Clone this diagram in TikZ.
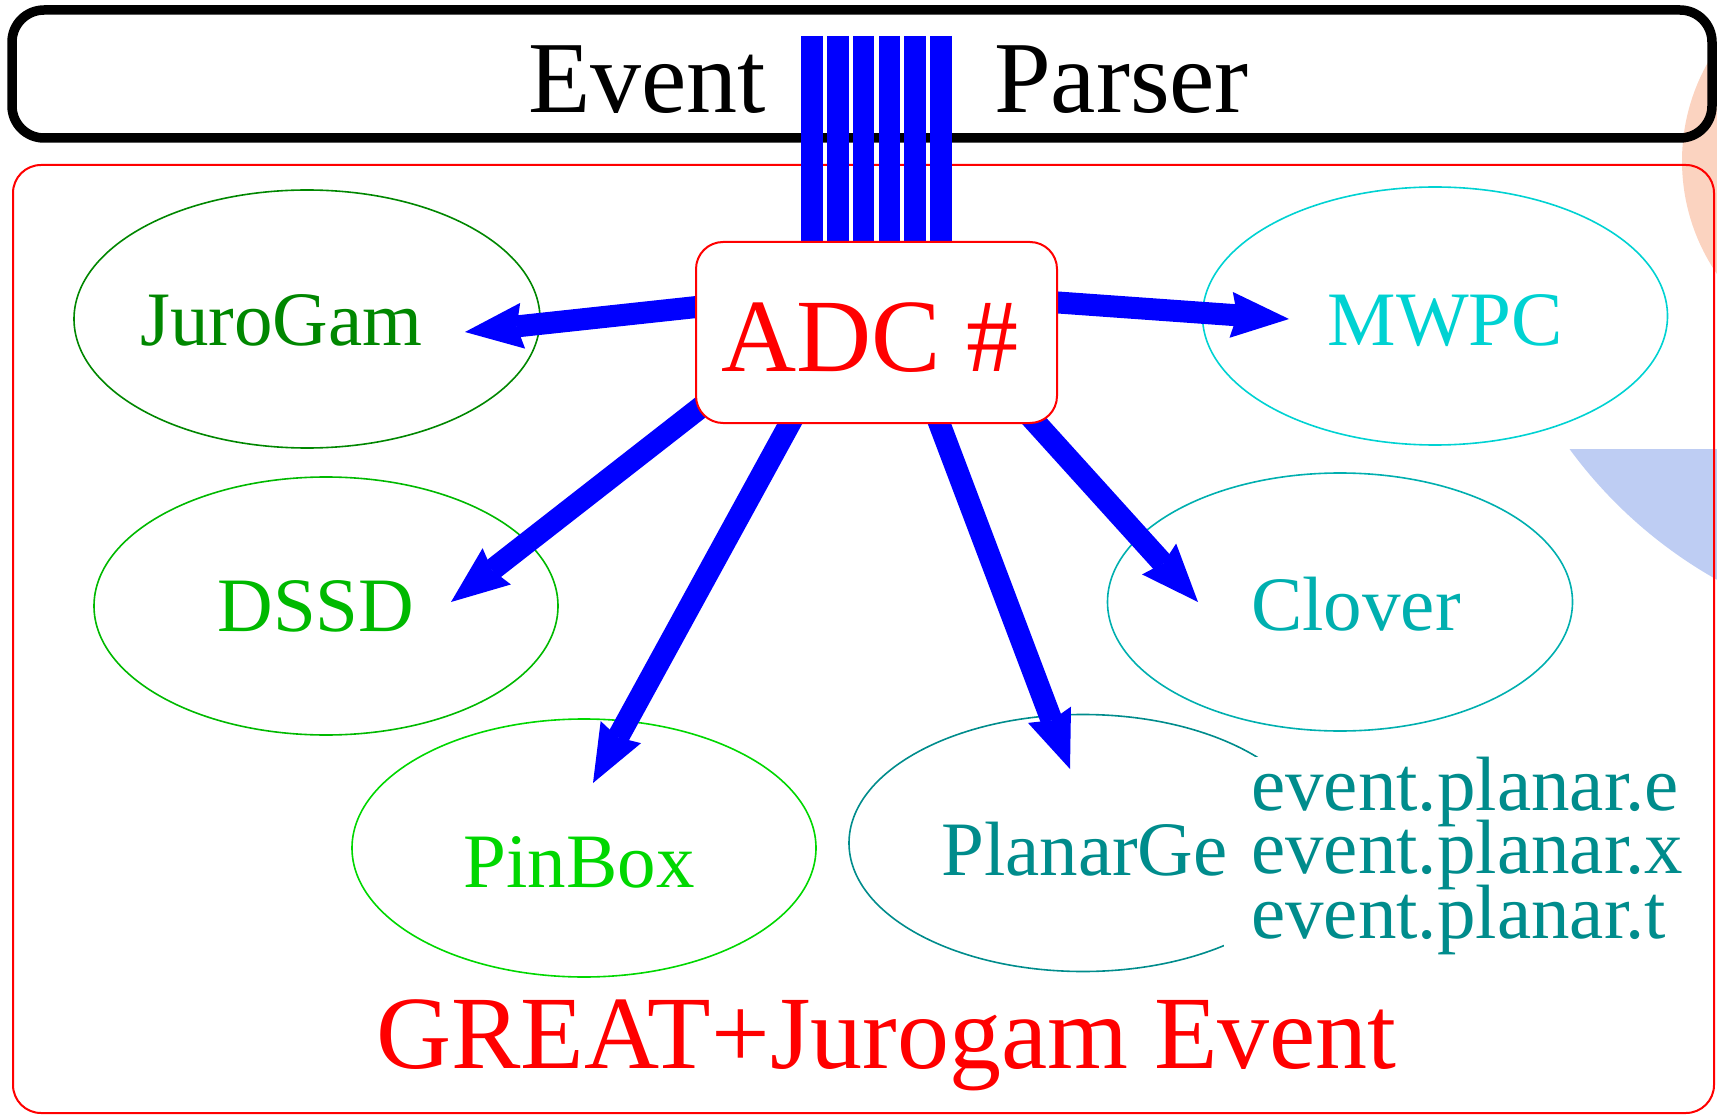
\documentclass[tikz,border=0pt]{standalone}
\usepackage{fontspec}
\setmainfont{Liberation Serif}
\usetikzlibrary{shapes.geometric,arrows.meta,calc}
\definecolor{cjuro}{RGB}{0,135,0}
\definecolor{cdssd}{RGB}{0,185,0}
\definecolor{cpin}{RGB}{0,215,0}
\definecolor{cplanar}{RGB}{0,140,140}
\definecolor{cclover}{RGB}{0,175,175}
\definecolor{cmwpc}{RGB}{0,210,210}
\definecolor{cpeach}{RGB}{251,211,192}
\definecolor{clav}{RGB}{190,205,243}
\pgfdeclarelayer{front}
\pgfsetlayers{main,front}
\begin{document}
\begin{tikzpicture}[x=1pt,y=-1pt,
  ell/.style={ellipse, draw, line width=1.6pt, inner sep=0pt, minimum width=465pt, minimum height=258pt},
  lab/.style={anchor=base, font=\fontsize{77}{77}\selectfont, inner sep=0pt},
  var/.style={anchor=base west, font=\fontsize{77}{77}\selectfont, inner sep=0pt, text=cplanar, text height=46pt, text depth=14pt},
  big/.style={anchor=base, font=\fontsize{103}{103}\selectfont, inner sep=0pt},
  flow/.style={blue, line width=22pt, -{Stealth[length=58pt,width=46pt,inset=6pt,line width=0pt]}},
  bar/.style={blue, line width=21.5pt}
]
\useasboundingbox (0,0) rectangle (1717,1115);
% background decorations
\begin{scope}
  \clip (0,0) rectangle (1717,1115);
  \fill[cpeach] (1882,161) circle (200);
  \clip (1500,449) rectangle (1717,1115);
  \fill[clav] (1944,175) circle (464);
\end{scope}
% frames
\node[draw, line width=9.5pt, rounded corners=32pt, minimum width=1700pt, minimum height=128pt, inner sep=0pt] (parser) at (862,74) {};
\node[draw=red, line width=2pt, rounded corners=28pt, minimum width=1701pt, minimum height=948pt, inner sep=0pt] (event) at (863.5,639) {};
\node[big, font=\fontsize{102}{102}\selectfont] (evt) at (647,113) {Event};
\node[big, font=\fontsize{102}{102}\selectfont] (prs) at (1121.5,113) {Parser};
% ADC box (front layer)
\begin{pgfonlayer}{front}
  \node[draw=red, fill=white, line width=2pt, rounded corners=27pt, minimum width=361pt, minimum height=181pt, inner sep=0pt] (adc) at (876.5,332.5) {};
  \node[big, text=red, font=\fontsize{104}{104}\selectfont] (adct) at (870,371) {ADC \#};
\end{pgfonlayer}
% bars from the parser to the ADC box
\foreach \x in {812,837.8,863.6,889.4,915.2,941}
  \draw[bar] (\x,36) -- ({\x},0 |- adc.north);
% detector ellipses
\node[ell, draw=cjuro, minimum width=466pt] (juro) at (307,319) {};
\node[ell, draw=cdssd, minimum width=464pt] (dssd) at (326,606) {};
\node[ell, draw=cpin, minimum width=464pt] (pin) at (584,848) {};
\node[ell, draw=cplanar, minimum width=468pt, minimum height=257pt] (planar) at (1083,843) {};
\node[ell, draw=cmwpc] (mwpc) at (1435,316) {};
\node[ell, draw=cclover] (clover) at (1340,602) {};
\fill[white] (1224,757) rectangle (1705,962);
% labels
\node[lab, text=cjuro] (juroT) at (281.5,346) {JuroGam};
\node[lab, text=cdssd] (dssdT) at (316,631) {DSSD};
\node[lab, text=cpin] (pinT) at (579,887) {PinBox};
\node[lab, text=cplanar] (planarT) at (1084.5,875) {PlanarGe};
\node[lab, text=cmwpc] (mwpcT) at (1445.5,346) {MWPC};
\node[lab, text=cclover] (cloverT) at (1356,630) {Clover};
\node[var] (ve) at (1251,810) {event.planar.e};
\node[var] (vx) at (1251,873) {event.planar.x};
\node[var] (vt) at (1251,938) {event.planar.t};
\node[big, text=red, font=\fontsize{104}{104}\selectfont] (title) at (886.5,1068) {GREAT+Jurogam Event};
% arrow tips
\coordinate (tJ) at (465,332);
\coordinate (tM) at (1289,319);
\coordinate (tD) at (451,602);
\coordinate (tP) at (593,783);
\coordinate (tG) at (1070,769);
\coordinate (tC) at (1198,602);
% arrows
\draw[flow] ($(adc.center)+(-161.5,-27.5)$) -- (tJ);
\draw[flow] ($(adc.center)+(160.5,-31.5)$) -- (tM);
\draw[flow] ($(adc.center)+(-157.5,60.5)$) -- (tD);
\draw[flow] ($(adc.center)+(-76.5,72.5)$) -- (tP);
\draw[flow] ($(adc.center)+(55.5,71.5)$) -- (tG);
\draw[flow] ($(adc.center)+(141.5,70.5)$) -- (tC);
\end{tikzpicture}
\end{document}
